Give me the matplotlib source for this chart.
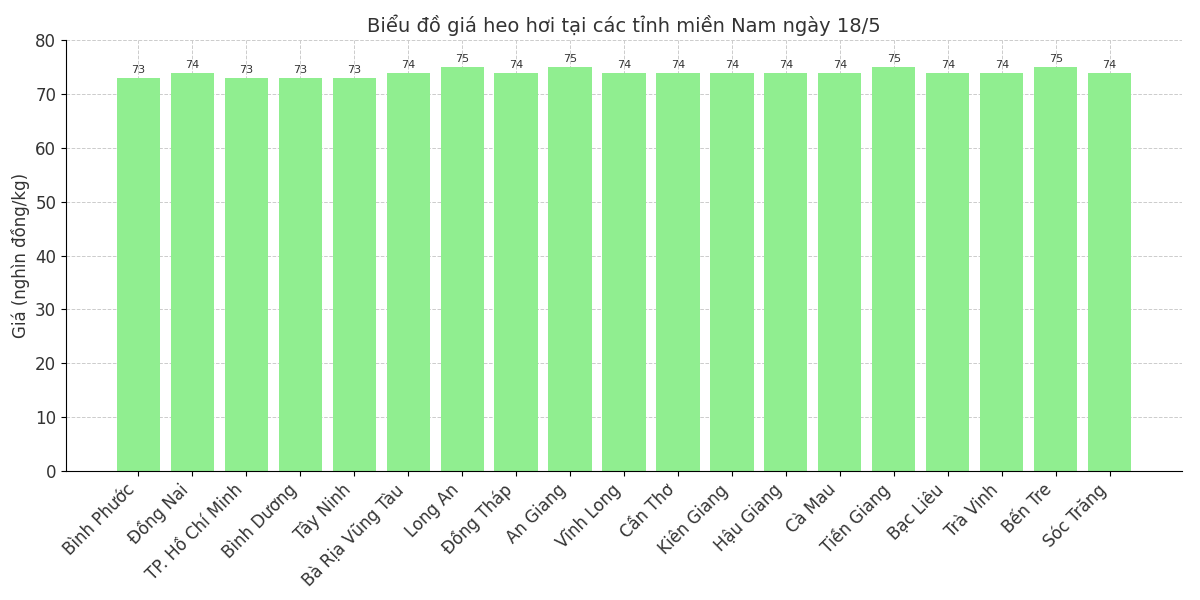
import matplotlib
matplotlib.use("Agg")
import matplotlib.pyplot as plt

provinces = ["Bình Phước", "Đồng Nai", "TP. Hồ Chí Minh", "Bình Dương", "Tây Ninh",
             "Bà Rịa Vũng Tàu", "Long An", "Đồng Tháp", "An Giang", "Vĩnh Long",
             "Cần Thơ", "Kiên Giang", "Hậu Giang", "Cà Mau", "Tiền Giang",
             "Bạc Liêu", "Trà Vinh", "Bến Tre", "Sóc Trăng"]
prices = [73, 74, 73, 73, 73, 74, 75, 74, 75, 74, 74, 74, 74, 74, 75, 74, 74, 75, 74]

fig, ax = plt.subplots(figsize=(12, 6), dpi=100)
bars = ax.bar(provinces, prices, color="#90EE90", width=0.8, zorder=2)
for b, v in zip(bars, prices):
    ax.text(b.get_x() + b.get_width() / 2, v + 0.5, str(v), ha="center", va="bottom",
            fontsize=8, color="#333333")
ax.set_ylim(0, 80)
ax.set_ylabel("Giá (nghìn đồng/kg)", fontsize=12, color="#333333")
ax.set_title("Biểu đồ giá heo hơi tại các tỉnh miền Nam ngày 18/5", fontsize=14, color="#333333")
ax.grid(True, linestyle="--", color="#cccccc", linewidth=0.7, zorder=0)
ax.spines["top"].set_visible(False)
ax.spines["right"].set_visible(False)
plt.xticks(rotation=45, ha="right", fontsize=12, color="#333333")
plt.yticks(fontsize=12, color="#333333")
fig.subplots_adjust(left=0.055, right=0.985, top=0.933, bottom=0.215)
fig.savefig("out.png")
